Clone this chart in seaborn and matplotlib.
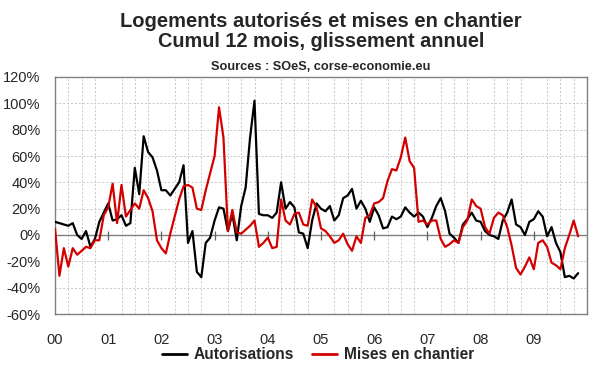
import numpy as np
import pandas as pd
import matplotlib
matplotlib.use("Agg")
import matplotlib.pyplot as plt
import seaborn as sns
from matplotlib.lines import Line2D

# monthly values, Jan 2000 -> Nov 2009 (% year-on-year, 12-month cumulative)
autorisations = [
    10, 9, 8, 7, 9, 0, -3, 3, -9, -3, 10, 17,
    24, 11, 12, 15, 7, 9, 51, 31, 75, 63, 59, 49,
    34, 34, 30, 35, 40, 53, -6, 3, -28, -32, -6, -2,
    11, 21, 20, 3, 16, -4, 22, 36, 74, 102, 16, 15,
    15, 13, 17, 40, 20, 25, 21, 2, 1, -10, 11, 24,
    20, 18, 22, 11, 15, 28, 30, 35, 20, 26, 20, 10,
    21, 15, 5, 6, 14, 12, 14, 21, 17, 14, 17, 14,
    6, 13, 22, 28, 18, 1, -2, -6, 8, 12, 17, 11,
    10, 3, 0, -1, -3, 11, 17, 27, 8, 6, 0, 10,
    12, 18, 14, -1, 6, -6, -13, -32, -31, -33, -29,
]
mises_en_chantier = [
    5, -31, -10, -24, -10, -15, -12, -9, -10, -4, -4, 15,
    21, 39, 9, 38, 14, 19, 24, 20, 34, 28, 18, -4,
    -10, -14, 1, 14, 27, 37, 38, 36, 20, 19, 34, 47,
    60, 97, 74, 3, 19, 2, 1, 4, 7, 11, -9, -6,
    -2, -10, -9, 27, 11, 8, 16, 17, 8, 7, 27, 21,
    5, 3, -1, -6, -4, 1, -7, -12, -1, -6, 13, 15,
    24, 25, 28, 41, 50, 49, 59, 74, 56, 51, 10, 11,
    8, 11, 11, -3, -9, -7, -4, -6, 6, 11, 27, 22,
    20, 6, 1, 13, 17, 15, 6, -8, -25, -30, -24, -17,
    -26, -6, -4, -9, -21, -23, -26, -10, 0, 11, -1,
]
year_labels = ["00", "01", "02", "03", "04", "05", "06", "07", "08", "09"]
y_ticks = [-60, -40, -20, 0, 20, 40, 60, 80, 100, 120]
y_labels = ["-60%", "-40%", "-20%", "0%", "20%", "40%", "60%", "80%", "100%", "120%"]

months = np.arange(len(autorisations))
df = pd.concat([
    pd.DataFrame({"t": months / 12, "v": autorisations, "serie": "Autorisations"}),
    pd.DataFrame({"t": months / 12, "v": mises_en_chantier, "serie": "Mises en chantier"}),
])

sns.set_style("white")
plt.rcParams["font.family"] = ["Liberation Sans", "DejaVu Sans"]

fig = plt.figure(figsize=(6, 3.72), dpi=100)
ax = fig.add_axes([55 / 600, 58 / 372, 532 / 600, 237 / 372])

palette = {"Autorisations": "black", "Mises en chantier": "#d40000"}
sns.lineplot(data=df, x="t", y="v", hue="serie", palette=palette,
             linewidth=1.6, legend=False, ax=ax, zorder=3)

ax.set_xlim(0, 10)
ax.set_ylim(-60, 120)
ax.set_xticks(range(10))
ax.set_xticklabels(year_labels)
ax.set_xticks(np.arange(0, 10, 0.25), minor=True)
ax.set_yticks(y_ticks)
ax.set_yticklabels(y_labels)
ax.set_xlabel("")
ax.set_ylabel("")

ax.grid(True, which="minor", axis="x", color="#c8c8c8", linestyle=(0, (2, 2)), linewidth=0.7)
ax.grid(True, which="major", axis="y", color="#c8c8c8", linestyle=(0, (2, 2)), linewidth=0.7)
ax.grid(False, which="major", axis="x")

ax.axhline(0, color="#808080", linewidth=1.0, zorder=2)
ax.vlines(range(1, 10), -4, 3, color="#606060", linewidth=0.9, zorder=2)

for s in ax.spines.values():
    s.set_color("#808080")
    s.set_linewidth(1.0)

ax.tick_params(axis="y", which="major", direction="inout", length=5, color="#808080",
               labelsize=10.5, pad=8)
ax.tick_params(axis="x", which="both", length=0, labelsize=10.5, pad=14)

fig.text(0.535, 0.928, "Logements autorisés et mises en chantier", ha="center",
         va="baseline", fontsize=14.5, fontweight="bold")
fig.text(0.535, 0.874, "Cumul 12 mois, glissement annuel", ha="center",
         va="baseline", fontsize=14.3, fontweight="bold")
fig.text(0.535, 0.813, "Sources : SOeS, corse-economie.eu", ha="center",
         va="baseline", fontsize=9.2, fontweight="bold")

handles = [Line2D([], [], color=palette[k], linewidth=2) for k in palette]
fig.legend(handles, list(palette), loc="center", bbox_to_anchor=(0.53, 0.046),
           ncol=2, frameon=False, handlelength=1.6, columnspacing=1.2,
           handletextpad=0.4, prop={"weight": "bold", "size": 11.2})

fig.savefig("out.png", dpi=100, facecolor="white")
